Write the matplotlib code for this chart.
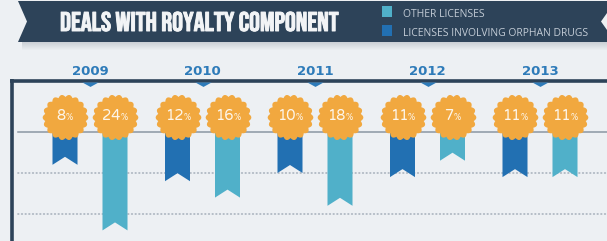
import numpy as np
import matplotlib
matplotlib.use("Agg")
import matplotlib.pyplot as plt
import matplotlib.patheffects as pe
from matplotlib.path import Path
from matplotlib.patches import Polygon, Rectangle
from matplotlib.offsetbox import TextArea, HPacker, AnnotationBbox

# data
years = ["2009", "2010", "2011", "2012", "2013"]
orphan = [8, 12, 10, 11, 11]   # licenses involving orphan drugs (dark ribbons)
other = [24, 16, 18, 7, 11]    # other licenses (light ribbons)
legend_labels = ["OTHER LICENSES", "LICENSES INVOLVING ORPHAN DRUGS"]
title = "DEALS WITH ROYALTY COMPONENT"

BG = "#edf0f3"
NAVY = "#2d4359"
DARK = "#2270b2"
LIGHT = "#50b0c9"
GOLD = "#f1a83f"
YEARBLUE = "#2e7bb9"

TITLE_FONT = ["Bebas Neue", "Oswald", "DejaVu Sans"]
ROUND_FONT = ["Varela Round", "DejaVu Sans"]
LEGEND_FONT = ["Open Sans", "DejaVu Sans"]

fig = plt.figure(figsize=(6.07, 2.41), dpi=100)
fig.patch.set_facecolor(BG)

# pixel layer for banner / frame
deco = fig.add_axes([0, 0, 1, 1])
deco.set_xlim(0, 607)
deco.set_ylim(241, 0)
deco.axis("off")

# data layer: x = year index, y = percent (growing downward)
ax = fig.add_axes([0, 0, 1, 1])
ax.patch.set_alpha(0)
ax.axis("off")
x_px0, x_step = 90, 112.5
y_px0, y_step = 132, 4.1
ax.set_xlim(-x_px0 / x_step, (607 - x_px0) / x_step)
ax.set_ylim((241 - y_px0) / y_step, -y_px0 / y_step)


def py(p):
    return (p - y_px0) / y_step


# banner
deco.add_patch(Polygon([(18, 1), (607, 1), (607, 13), (601, 21.5), (607, 30),
                        (607, 42), (18, 42), (27, 21.5)], fc=NAVY, ec="none", zorder=3))
for i in range(8):
    deco.add_patch(Rectangle((22, 42 + i), 585, 1, fc="#8c96a0",
                             alpha=0.35 * (1 - i / 8), ec="none", zorder=2))
deco.text(60, 31, title, color="#f2f4f6", fontsize=19.5,
          family=TITLE_FONT, va="baseline", zorder=4,
          path_effects=[pe.withStroke(linewidth=0.7, foreground="#f2f4f6")])
for lab, col, base in zip(legend_labels, [LIGHT, DARK], [17, 36]):
    deco.add_patch(Rectangle((382, base - 11), 10, 11, fc=col, ec="none", zorder=4))
    deco.text(403, base, lab, color="#c3ccd6", fontsize=7.5,
              family=LEGEND_FONT, va="baseline", zorder=4)

# frame
deco.plot([10, 607], [80.5, 80.5], color=NAVY, lw=2.6, solid_capstyle="butt")
deco.plot([12, 12], [79, 241], color=NAVY, lw=2.6, solid_capstyle="butt")

# base line and dotted guides
xs = np.arange(len(years))
left = ax.get_xlim()[0] + 18 / x_step
ax.plot([left, ax.get_xlim()[1]], [0, 0], color="#8a96a3", lw=1.1, zorder=1)
for g in [10, 20]:
    ax.plot([left, ax.get_xlim()[1]], [g, g], color="#aab3bd", lw=1.2,
            ls=(0, (0.4, 1.8)), dash_capstyle="round", zorder=1)

# year labels and pointers
for x, yr in zip(xs, years):
    ax.text(x, py(75), yr, ha="center", va="baseline", color=YEARBLUE,
            fontsize=9.5, fontweight="bold", family="DejaVu Sans")
tri = Path([(-1, 0), (1, 0), (0, -0.55), (-1, 0)], closed=True)
ax.scatter(xs, [py(81.8)] * len(xs), marker=tri, s=135, color=YEARBLUE,
           linewidths=0, zorder=3)

# ribbons
off = 25 / x_step
half = 12.5 / x_step
notch = 8 / y_step
badge_y = py(117)
for x, a, b in zip(xs, orphan, other):
    for cx, v, col in [(x - off, a, DARK), (x + off, b, LIGHT)]:
        ax.add_patch(Polygon([(cx - half, badge_y), (cx + half, badge_y), (cx + half, v),
                              (cx, v - notch), (cx - half, v)], fc=col, ec="none", zorder=2))

# badges
th = np.linspace(0, 2 * np.pi, 361)
r = 0.9 + 0.1 * np.abs(np.cos(9 * th))
seal = Path(np.column_stack([r * np.cos(th), r * np.sin(th)]), closed=True)
bx = np.concatenate([xs - off, xs + off])
vals = orphan + other
ax.scatter(bx, [badge_y] * len(bx), marker=seal, s=1080, color=GOLD,
           linewidths=0, zorder=4)
for x, v in zip(bx, vals):
    box = HPacker(children=[TextArea(str(v), textprops=dict(color="#fdf6ea", fontsize=10.5,
                                                             family=ROUND_FONT)),
                            TextArea("%", textprops=dict(color="#fdf6ea", fontsize=6.5,
                                                         family=ROUND_FONT))],
                  align="baseline", pad=0, sep=0)
    ab = AnnotationBbox(box, (x, badge_y), frameon=False, box_alignment=(0.5, 0.5),
                        pad=0, zorder=5)
    ax.add_artist(ab)

fig.savefig("out.png", dpi=100, facecolor=BG)
